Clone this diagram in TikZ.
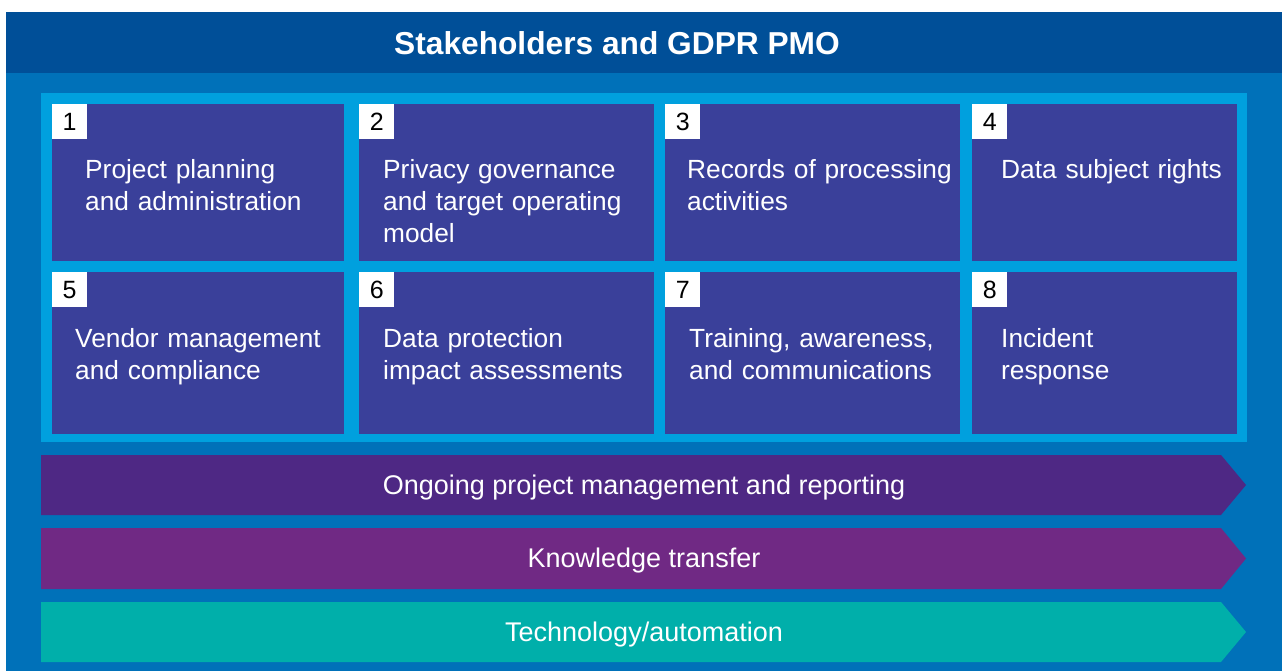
\documentclass[tikz,border=0pt]{standalone}
\usepackage{fontspec}
\setmainfont{Liberation Sans}
\definecolor{hdr}{RGB}{0,79,152}
\definecolor{bodyblue}{RGB}{0,113,185}
\definecolor{frame}{RGB}{0,160,222}
\definecolor{boxc}{RGB}{58,64,154}
\definecolor{arrA}{RGB}{78,40,132}
\definecolor{arrB}{RGB}{112,41,132}
\definecolor{arrC}{RGB}{0,175,170}
\begin{document}
\begin{tikzpicture}[x=1pt,y=-1pt,
  cell/.style={fill=boxc,draw=none,anchor=north west,inner sep=0pt,outer sep=0pt},
  numbox/.style={fill=white,anchor=north west,inner sep=0pt,minimum width=35pt,minimum height=35pt,font=\fontsize{25}{25}\selectfont,text=black},
  celltext/.style={anchor=base west,inner sep=0pt,text=white,align=left,text width=290pt,font=\fontsize{26.3}{32}\selectfont},
  bartext/.style={anchor=base,inner sep=0pt,text=white,font=\fontsize{27}{32}\selectfont}]
\useasboundingbox (0,0) rectangle (1282,671);
% background
\fill[bodyblue] (6,12) rectangle (1282,671);
\fill[hdr] (6,12) rectangle (1282,73);
\node[anchor=base,inner sep=0pt,text=white,font=\bfseries\fontsize{31.7}{31.7}\selectfont] (title) at (617,54.5) {Stakeholders and GDPR PMO};
% frame
\node[fill=frame,anchor=north west,inner sep=0pt,minimum width=1206pt,minimum height=349pt] (frm) at (41,93) {};
% cells
\node[cell,minimum width=292pt,minimum height=157pt] (c1) at (52,104) {};
\node[cell,minimum width=295pt,minimum height=157pt] (c2) at (359,104) {};
\node[cell,minimum width=295pt,minimum height=157pt] (c3) at (665,104) {};
\node[cell,minimum width=265pt,minimum height=157pt] (c4) at (972,104) {};
\node[cell,minimum width=292pt,minimum height=162pt] (c5) at (52,272) {};
\node[cell,minimum width=295pt,minimum height=162pt] (c6) at (359,272) {};
\node[cell,minimum width=295pt,minimum height=162pt] (c7) at (665,272) {};
\node[cell,minimum width=265pt,minimum height=162pt] (c8) at (972,272) {};
% numbers
\node[numbox] (n1) at (c1.north west) {1};
\node[numbox] (n2) at (c2.north west) {2};
\node[numbox] (n3) at (c3.north west) {3};
\node[numbox] (n4) at (c4.north west) {4};
\node[numbox] (n5) at (c5.north west) {5};
\node[numbox] (n6) at (c6.north west) {6};
\node[numbox] (n7) at (c7.north west) {7};
\node[numbox] (n8) at (c8.north west) {8};
% cell texts
\node[celltext] (t1) at (85,178.5) {Project planning\\and administration};
\node[celltext] (t2) at (383,178.5) {Privacy governance\\and target operating\\model};
\node[celltext] (t3) at (687,178.5) {Records of processing\\activities};
\node[celltext] (t4) at (1001,178.5) {Data subject rights};
\node[celltext] (t5) at (75,347.5) {Vendor management\\and compliance};
\node[celltext] (t6) at (383,347.5) {Data protection\\impact assessments};
\node[celltext] (t7) at (689,347.5) {Training, awareness,\\and communications};
\node[celltext] (t8) at (1001,347.5) {Incident\\response};
% bars
\fill[arrA] (41,455) -- (1221,455) -- (1246,485) -- (1221,515) -- (41,515) -- cycle;
\fill[arrB] (41,528) -- (1221,528) -- (1246,558.5) -- (1221,589) -- (41,589) -- cycle;
\fill[arrC] (41,602) -- (1221,602) -- (1246,632) -- (1221,662) -- (41,662) -- cycle;
\node[bartext] (b1) at (644,494) {Ongoing project management and reporting};
\node[bartext] (b2) at (644,567) {Knowledge transfer};
\node[bartext] (b3) at (644,641) {Technology/automation};
\end{tikzpicture}
\end{document}
